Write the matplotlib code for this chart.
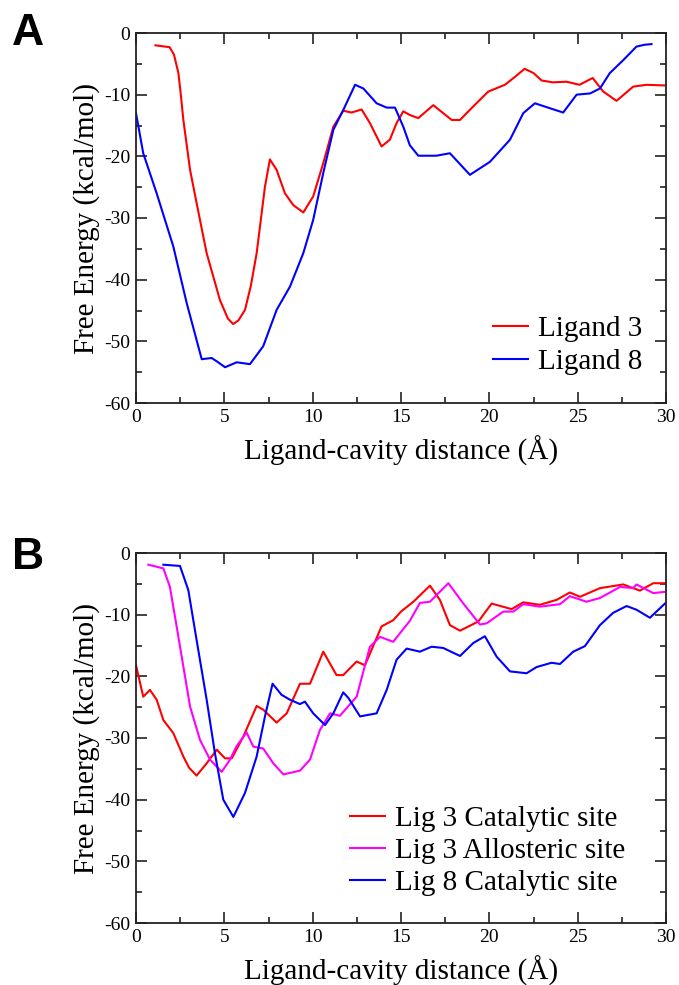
import matplotlib
matplotlib.use("Agg")
import matplotlib.pyplot as plt
from matplotlib.ticker import MultipleLocator

# ---------------- data ----------------
a_lig3_x = [1.1, 1.9, 2.15, 2.4, 2.53, 2.68, 3.06, 3.62, 4.0, 4.75, 5.2, 5.5, 5.8, 6.17, 6.5, 6.83,
            7.3, 7.58, 7.96, 8.43, 8.9, 9.47, 10.03, 10.6, 11.17, 11.73, 12.2, 12.77, 13.24,
            13.9, 14.37, 14.75, 15.13, 15.5, 15.98, 16.83, 17.3, 17.87, 18.34, 19.09, 19.94,
            20.88, 21.5, 22.0, 22.5, 22.96, 23.6, 24.37, 25.1, 25.85, 26.45, 27.2, 28.14,
            28.9, 29.9, 30.0]
a_lig3_y = [-2.0, -2.3, -3.5, -6.5, -9.8, -14.1, -22.2, -30.3, -35.7, -43.3, -46.3, -47.2, -46.6,
            -44.9, -41.0, -35.7, -24.9, -20.5, -22.2, -26.0, -27.9, -29.1, -26.5, -21.1, -15.2,
            -12.6, -12.9, -12.4, -14.6, -18.4, -17.3, -14.6, -12.7, -13.3, -13.8, -11.7, -12.8,
            -14.1, -14.1, -11.9, -9.5, -8.4, -7.0, -5.8, -6.5, -7.7, -8.0, -7.9, -8.4, -7.3,
            -9.5, -11.0, -8.7, -8.4, -8.5, -8.5]

a_lig8_x = [0.0, 0.41, 1.17, 2.11, 2.87, 3.72, 4.28, 4.6, 5.04, 5.7, 6.45, 7.2, 7.96, 8.72,
            9.47, 10.03, 10.6, 11.17, 11.73, 12.4, 12.87, 13.62, 14.19, 14.66, 15.13, 15.5,
            15.98, 17.0, 17.77, 18.9, 20.03, 21.17, 21.92, 22.58, 23.43, 24.18, 24.94, 25.7,
            26.26, 26.82, 27.58, 28.33, 28.8, 29.18]
a_lig8_y = [-13.0, -19.5, -26.0, -34.6, -43.8, -52.9, -52.7, -53.3, -54.2, -53.4, -53.7,
            -50.8, -44.9, -41.1, -35.7, -30.3, -22.7, -15.7, -12.5, -8.4, -9.0, -11.4, -12.1,
            -12.1, -15.2, -18.2, -19.9, -19.9, -19.5, -23.0, -20.9, -17.3, -13.0, -11.4, -12.2,
            -12.9, -10.0, -9.8, -9.0, -6.5, -4.4, -2.2, -1.9, -1.8]

b_cat3_x = [0.0, 0.41, 0.79, 1.17, 1.55, 2.11, 2.68, 3.0, 3.43, 4.0, 4.57, 5.04, 5.42, 6.07,
            6.83, 7.2, 7.96, 8.53, 9.28, 9.85, 10.6, 11.35, 11.73, 12.49, 12.96, 13.9, 14.56,
            15.0, 15.7, 16.64, 17.2, 17.77, 18.34, 19.38, 20.13, 21.26, 21.92, 22.86, 23.81,
            24.56, 25.13, 26.26, 27.58, 28.52, 29.28, 29.94]
b_cat3_y = [-18.2, -23.3, -22.2, -23.8, -27.1, -29.2, -33.0, -34.8, -36.1, -34.1, -31.9, -33.3,
            -33.3, -29.8, -24.8, -25.4, -27.5, -26.0, -21.2, -21.2, -16.0, -19.8, -19.8, -17.6,
            -18.2, -11.9, -10.9, -9.5, -7.9, -5.3, -7.6, -11.7, -12.6, -11.1, -8.2, -9.1, -8.0,
            -8.4, -7.6, -6.4, -7.1, -5.7, -5.1, -6.1, -4.9, -4.9]

b_allo3_x = [0.7, 1.55, 1.92, 2.3, 2.68, 3.06, 3.62, 4.19, 4.85, 5.32, 5.7, 6.26, 6.64, 7.2,
             7.77, 8.34, 9.28, 9.85, 10.41, 10.98, 11.54, 12.49, 13.24, 13.81, 14.56, 15.0,
             15.5, 16.07, 16.64, 17.68, 18.53, 19.47, 19.85, 20.79, 21.36, 21.92, 22.86, 24.0,
             24.56, 25.5, 26.26, 27.4, 28.14, 28.33, 29.28, 29.94]
b_allo3_y = [-1.9, -2.5, -5.5, -11.9, -18.4, -24.9, -30.3, -33.5, -35.5, -33.5, -31.3, -29.1,
             -31.4, -31.7, -34.1, -35.9, -35.3, -33.5, -28.7, -26.0, -26.4, -23.3, -15.2, -13.6,
             -14.4, -12.8, -11.0, -8.1, -7.9, -4.9, -8.2, -11.6, -11.4, -9.5, -9.5, -8.3, -8.7,
             -8.3, -7.0, -7.9, -7.3, -5.5, -5.7, -5.1, -6.5, -6.3]

b_cat8_x = [1.55, 2.49, 2.96, 3.43, 4.0, 4.47, 4.94, 5.51, 6.17, 6.83, 7.3, 7.73, 8.24, 8.72,
            9.28, 9.56, 10.03, 10.7, 11.17, 11.73, 12.02, 12.68, 13.62, 14.19, 14.75, 15.32,
            16.07, 16.73, 17.39, 18.34, 19.09, 19.75, 20.41, 21.17, 22.11, 22.67, 23.52, 24.0,
            24.75, 25.41, 26.26, 27.01, 27.77, 28.33, 29.09, 29.94]
b_cat8_y = [-1.9, -2.1, -6.0, -14.1, -23.8, -32.5, -40.0, -42.8, -38.9, -33.0, -26.5, -21.2,
            -23.0, -23.8, -24.5, -24.1, -26.0, -27.9, -26.0, -22.6, -23.5, -26.5, -26.0, -22.2,
            -17.3, -15.5, -16.0, -15.2, -15.4, -16.7, -14.6, -13.5, -16.8, -19.2, -19.5, -18.5,
            -17.8, -18.0, -16.0, -15.1, -11.7, -9.7, -8.6, -9.2, -10.5, -8.2]

labels_a = ["Ligand 3", "Ligand 8"]
labels_b = ["Lig 3 Catalytic site", "Lig 3 Allosteric site", "Lig 8 Catalytic site"]
xlabel = "Ligand-cavity distance (\u00c5)"
ylabel = "Free Energy (kcal/mol)"

# ---------------- figure ----------------
plt.rcParams['font.family'] = ['Liberation Serif', 'DejaVu Serif']
fig = plt.figure(figsize=(6.79, 9.85), dpi=100)

ax_a = fig.add_axes([136/679, 1-403/985, 530/679, 370/985])
ax_b = fig.add_axes([136/679, 1-923/985, 530/679, 370/985])

lw = 1.5
ax_a.plot(a_lig3_x, a_lig3_y, color='#ff0000', lw=lw, label=labels_a[0])
ax_a.plot(a_lig8_x, a_lig8_y, color='#0000ff', lw=lw, label=labels_a[1])

ax_b.plot(b_cat3_x, b_cat3_y, color='#ff0000', lw=lw, label=labels_b[0])
ax_b.plot(b_allo3_x, b_allo3_y, color='#ff00ff', lw=lw, label=labels_b[1])
ax_b.plot(b_cat8_x, b_cat8_y, color='#0000ff', lw=lw, label=labels_b[2])

for ax in (ax_a, ax_b):
    ax.set_xlim(0, 30)
    ax.set_ylim(-60, 0)
    ax.xaxis.set_major_locator(MultipleLocator(5))
    ax.xaxis.set_minor_locator(MultipleLocator(2.5))
    ax.yaxis.set_major_locator(MultipleLocator(10))
    ax.yaxis.set_minor_locator(MultipleLocator(5))
    ax.tick_params(which='both', direction='in', top=True, right=True,
                   labelsize=14, width=1.2, color='#222222', pad=4)
    ax.tick_params(which='major', length=8)
    ax.tick_params(which='minor', length=4.5)
    for s in ax.spines.values():
        s.set_linewidth(1.3)
        s.set_color('#222222')
    ax.set_xticks([0, 5, 10, 15, 20, 25, 30])
    ax.set_xticklabels(['0', '5', '10', '15', '20', '25', '30'])
    ax.set_yticks([0, -10, -20, -30, -40, -50, -60])
    ax.set_yticklabels(['0', '-10', '-20', '-30', '-40', '-50', '-60'])
    ax.set_xlabel(xlabel, fontsize=21, labelpad=7)
    ax.set_ylabel(ylabel, fontsize=21, labelpad=3)

leg_kw = dict(frameon=False, fontsize=21, handlelength=1.2, handletextpad=0.35,
              labelspacing=0.2, borderpad=0, borderaxespad=0, loc='upper left')
ax_a.legend(bbox_to_anchor=(0.674, 0.235), **leg_kw)
ax_b.legend(bbox_to_anchor=(0.404, 0.318), **leg_kw)

fig.text(12/679, 1-13/985, 'A', fontsize=32, fontweight='bold',
         family='Liberation Sans', va='top', ha='left')
fig.text(12/679, 1-537/985, 'B', fontsize=32, fontweight='bold',
         family='Liberation Sans', va='top', ha='left')

fig.savefig('out.png', dpi=100)
